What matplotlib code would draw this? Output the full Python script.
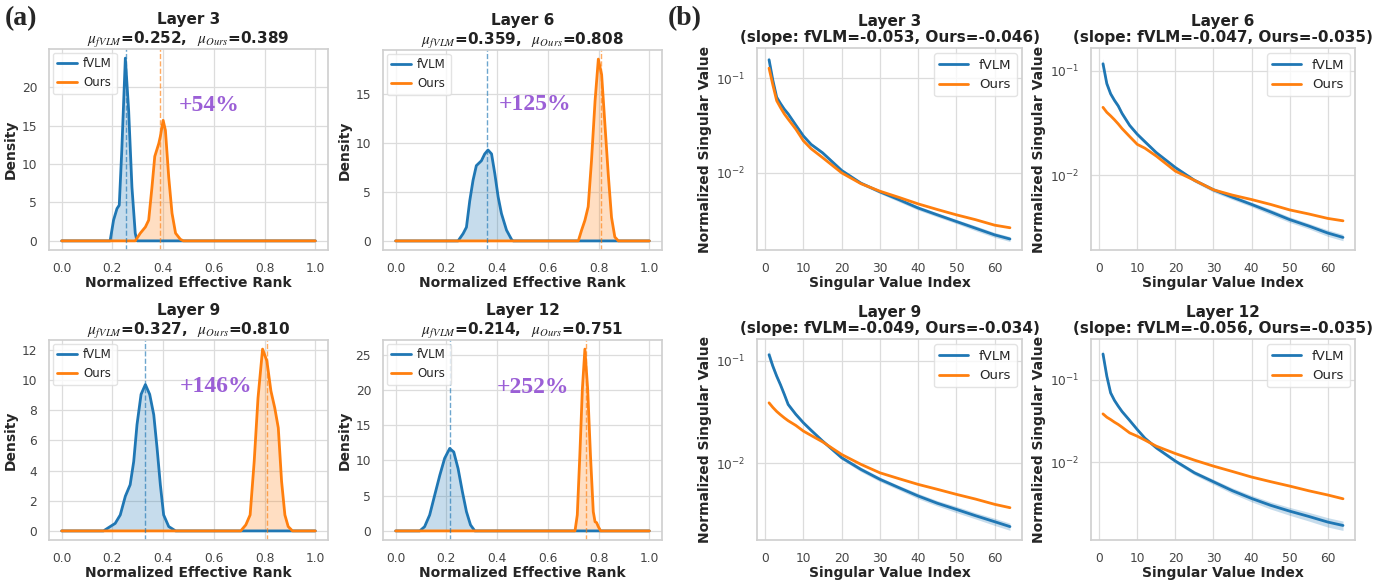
import matplotlib
matplotlib.use('Agg')
import matplotlib.pyplot as plt
import seaborn as sns

sns.set_theme(style='whitegrid')
plt.rcParams['font.family'] = ['DejaVu Sans']

BLUE = '#1f77b4'
ORANGE = '#ff7f0e'
PURPLE = '#9b5fd6'

# ---------- (a) effective rank densities ----------
layers = [3, 6, 9, 12]
mu_fvlm = [0.252, 0.359, 0.327, 0.214]
mu_ours = [0.389, 0.808, 0.810, 0.751]
gains = ['+54%', '+125%', '+146%', '+252%']

rank_fvlm_x = [
    [0.0, 0.191, 0.2045, 0.218, 0.227, 0.237, 0.251, 0.264, 0.277, 0.29, 0.297, 1.0],
    [0.0, 0.246, 0.266, 0.279, 0.292, 0.305, 0.318, 0.338, 0.351, 0.364, 0.378, 0.391,
     0.404, 0.417, 0.437, 0.457, 0.463, 1.0],
    [0.0, 0.165, 0.185, 0.211, 0.231, 0.251, 0.27, 0.284, 0.297, 0.313, 0.33, 0.347,
     0.363, 0.376, 0.389, 0.402, 0.422, 0.449, 1.0],
    [0.0, 0.095, 0.114, 0.134, 0.154, 0.174, 0.193, 0.213, 0.229, 0.246, 0.263, 0.279,
     0.295, 0.312, 1.0],
]
rank_fvlm_y = [
    [0, 0, 2.7, 4.2, 4.65, 11.8, 23.8, 17.0, 7.0, 1.0, 0, 0],
    [0, 0, 0.75, 1.4, 4.1, 6.2, 7.7, 8.2, 8.9, 9.3, 8.9, 6.85, 4.5, 2.8, 1.1, 0.14, 0, 0],
    [0, 0, 0.22, 0.5, 1.06, 2.3, 3.06, 4.6, 7.05, 9.05, 9.7, 9.05, 7.7, 5.5, 3.06, 1.06,
     0.29, 0, 0],
    [0, 0, 0.6, 2.26, 5.1, 7.9, 10.3, 11.7, 11.2, 8.85, 5.56, 2.73, 0.85, 0, 0],
]
rank_ours_x = [
    [0.0, 0.29, 0.31, 0.33, 0.343, 0.356, 0.367, 0.383, 0.389, 0.4, 0.409, 0.422, 0.435,
     0.449, 0.468, 0.48, 1.0],
    [0.0, 0.72, 0.733, 0.746, 0.759, 0.772, 0.786, 0.799, 0.812, 0.825, 0.838, 0.851,
     0.864, 0.878, 1.0],
    [0.0, 0.706, 0.726, 0.743, 0.759, 0.774, 0.792, 0.809, 0.825, 0.84, 0.854, 0.867,
     0.88, 0.893, 0.91, 1.0],
    [0.0, 0.707, 0.716, 0.726, 0.736, 0.746, 0.757, 0.768, 0.779, 0.786, 0.792, 0.799,
     0.808, 1.0],
]
rank_ours_y = [
    [0, 0, 1.0, 1.8, 2.7, 7.0, 11.0, 12.7, 13.6, 15.7, 14.4, 8.3, 3.6, 1.0, 0.2, 0, 0],
    [0, 0, 1.1, 2.1, 3.5, 8.2, 14.3, 18.6, 17.0, 11.9, 6.85, 2.4, 0.4, 0, 0],
    [0, 0, 0.4, 1.06, 4.6, 8.8, 12.05, 11.27, 9.27, 8.16, 6.83, 3.28, 1.06, 0.29, 0, 0],
    [0, 0, 2.26, 10.7, 20.1, 25.8, 20.1, 10.7, 2.73, 1.3, 1.18, 0.6, 0, 0],
]

# ---------- (b) singular value spectra ----------
slope_fvlm = ['-0.053', '-0.047', '-0.049', '-0.056']
slope_ours = ['-0.046', '-0.035', '-0.034', '-0.035']
sv_index = [1, 2, 3, 4, 5, 6, 8, 10, 12, 15, 20, 25, 30, 35, 40, 45, 50, 55, 60, 64]
sv_fvlm = [
    [0.157, 0.095, 0.063, 0.054, 0.047, 0.042, 0.032, 0.0245, 0.020, 0.0163, 0.0106,
     0.0078, 0.0063, 0.0052, 0.00425, 0.0036, 0.00306, 0.0026, 0.00221, 0.0020],
    [0.116, 0.075, 0.060, 0.052, 0.046, 0.039, 0.030, 0.0247, 0.021, 0.0165, 0.0119,
     0.009, 0.0073, 0.0062, 0.0053, 0.0045, 0.0038, 0.0033, 0.00283, 0.00257],
    [0.114, 0.088, 0.0705, 0.058, 0.0468, 0.0374, 0.030, 0.0248, 0.021, 0.0165, 0.01135,
     0.00875, 0.0070, 0.0058, 0.00482, 0.0041, 0.00357, 0.0031, 0.00271, 0.00243],
    [0.204, 0.11, 0.069, 0.056, 0.0476, 0.041, 0.032, 0.0248, 0.0195, 0.0149, 0.0103,
     0.00743, 0.00578, 0.0045, 0.00363, 0.0030, 0.00255, 0.0022, 0.00188, 0.00171],
]
sv_ours = [
    [0.128, 0.085, 0.058, 0.049, 0.042, 0.037, 0.029, 0.0218, 0.018, 0.0145, 0.0100,
     0.0077, 0.0064, 0.0055, 0.0047, 0.0041, 0.0036, 0.0032, 0.0028, 0.00263],
    [0.0446, 0.040, 0.037, 0.034, 0.031, 0.028, 0.0235, 0.0198, 0.0182, 0.0153, 0.011,
     0.009, 0.0073, 0.0065, 0.0059, 0.0053, 0.0047, 0.0043, 0.0039, 0.0037],
    [0.0388, 0.035, 0.032, 0.0297, 0.0277, 0.026, 0.0234, 0.0206, 0.0187, 0.0162, 0.0122,
     0.0098, 0.0081, 0.0071, 0.00625, 0.0056, 0.0050, 0.0045, 0.0040, 0.00371],
    [0.0384, 0.035, 0.0328, 0.0305, 0.0286, 0.0265, 0.0226, 0.0206, 0.0185, 0.0156, 0.0127,
     0.01057, 0.00895, 0.0077, 0.0066, 0.0058, 0.00513, 0.0045, 0.0040, 0.0036],
]
# relative half-width of the fVLM shaded band
fvlm_spread = [
    [0.10, 0.06, 0.05, 0.05, 0.05, 0.05, 0.04, 0.04, 0.04, 0.04, 0.04, 0.04, 0.04, 0.05,
     0.05, 0.05, 0.05, 0.06, 0.06, 0.06],
    [0.12, 0.07, 0.05, 0.05, 0.05, 0.05, 0.04, 0.04, 0.04, 0.04, 0.04, 0.04, 0.05, 0.05,
     0.05, 0.06, 0.06, 0.06, 0.07, 0.07],
    [0.12, 0.07, 0.06, 0.05, 0.05, 0.05, 0.04, 0.04, 0.04, 0.04, 0.04, 0.05, 0.05, 0.05,
     0.06, 0.06, 0.07, 0.07, 0.08, 0.08],
    [0.14, 0.08, 0.06, 0.05, 0.05, 0.05, 0.04, 0.04, 0.04, 0.05, 0.05, 0.06, 0.07, 0.08,
     0.09, 0.10, 0.11, 0.12, 0.13, 0.13],
]
sv_ylim = [(0.00153, 0.209), (0.00195, 0.164), (0.0018, 0.162), (0.00114, 0.31)]

# ---------- layout (pixel boxes: left, right, top, bottom) ----------
W, H = 1387, 580
rank_boxes = [(49, 328, 49, 250), (383, 662, 50, 250), (49, 328, 340, 540), (383, 662, 340, 540)]
sv_boxes = [(757, 1022, 48, 250), (1091, 1355, 48, 250), (757, 1022, 339, 540), (1091, 1355, 339, 540)]
gain_xy = [(0.58, 17.6), (0.55, 14.0), (0.61, 9.6), (0.54, 20.4)]


def add_box(fig, box):
    l, r, t, b = box
    return fig.add_axes([l / W, 1 - b / H, (r - l) / W, (b - t) / H])


def style_axes(ax):
    for s in ax.spines.values():
        s.set_color('#d0d0d0')
    ax.tick_params(labelsize=8.8, colors='#444444', pad=2.5)
    ax.grid(True, color='#dcdcdc', lw=0.9)


fig = plt.figure(figsize=(W / 100, H / 100), dpi=100)

for i in range(4):
    ax = add_box(fig, rank_boxes[i])
    ax.plot(rank_fvlm_x[i], rank_fvlm_y[i], color=BLUE, lw=2, label='fVLM')
    ax.fill_between(rank_fvlm_x[i], rank_fvlm_y[i], color=BLUE, alpha=0.25, lw=0)
    ax.plot(rank_ours_x[i], rank_ours_y[i], color=ORANGE, lw=2, label='Ours')
    ax.fill_between(rank_ours_x[i], rank_ours_y[i], color=ORANGE, alpha=0.25, lw=0)
    ax.axvline(mu_fvlm[i], color=BLUE, ls='--', lw=1, alpha=0.65)
    ax.axvline(mu_ours[i], color=ORANGE, ls='--', lw=1, alpha=0.65)
    ax.set_xlim(-0.05, 1.05)
    ax.set_xticks([0.0, 0.2, 0.4, 0.6, 0.8, 1.0])
    style_axes(ax)
    ax.set_xlabel('Normalized Effective Rank', fontsize=10, fontweight='bold', labelpad=1)
    ax.set_ylabel('Density', fontsize=10, fontweight='bold', labelpad=3)
    ax.set_title('Layer %d\n$\\mu_{fVLM}$=%.3f,  $\\mu_{Ours}$=%.3f'
                 % (layers[i], mu_fvlm[i], mu_ours[i]),
                 fontsize=11, fontweight='bold', color='#222222', pad=4,
                 math_fontfamily='stix', linespacing=1.15)
    ax.text(gain_xy[i][0], gain_xy[i][1], gains[i], color=PURPLE, fontsize=17,
            fontweight='bold', family='Liberation Serif', ha='center', va='center')
    leg = ax.legend(loc='upper left', fontsize=8.5, handlelength=1.7, handletextpad=0.5,
                    borderaxespad=0.3)
    leg.get_frame().set_edgecolor('#dddddd')

for i in range(4):
    ax = add_box(fig, sv_boxes[i])
    lo = [v * (1 - s) for v, s in zip(sv_fvlm[i], fvlm_spread[i])]
    hi = [v * (1 + s) for v, s in zip(sv_fvlm[i], fvlm_spread[i])]
    ax.fill_between(sv_index, lo, hi, color=BLUE, alpha=0.25, lw=0)
    ax.plot(sv_index, sv_fvlm[i], color=BLUE, lw=2, label='fVLM')
    ax.plot(sv_index, sv_ours[i], color=ORANGE, lw=2, label='Ours')
    ax.set_yscale('log')
    ax.set_ylim(*sv_ylim[i])
    ax.set_xticks([0, 10, 20, 30, 40, 50, 60])
    style_axes(ax)
    ax.grid(False, which='minor')
    ax.set_xlabel('Singular Value Index', fontsize=10, fontweight='bold', labelpad=1)
    ax.set_ylabel('Normalized Singular Value', fontsize=10, fontweight='bold', labelpad=3)
    ax.set_title('Layer %d\n(slope: fVLM=%s, Ours=%s)' % (layers[i], slope_fvlm[i], slope_ours[i]),
                 fontsize=11, fontweight='bold', color='#222222', pad=4, linespacing=1.15)
    leg = ax.legend(loc='upper right', fontsize=9.5, handlelength=2.2, borderaxespad=0.4)
    leg.get_frame().set_edgecolor('#dddddd')

fig.text(5 / W, 1 - 6 / H, '(a)', fontsize=20, fontweight='bold', family='Liberation Serif',
         va='top', ha='left')
fig.text(668 / W, 1 - 6 / H, '(b)', fontsize=20, fontweight='bold', family='Liberation Serif',
         va='top', ha='left')

fig.savefig('out.png', dpi=100)
